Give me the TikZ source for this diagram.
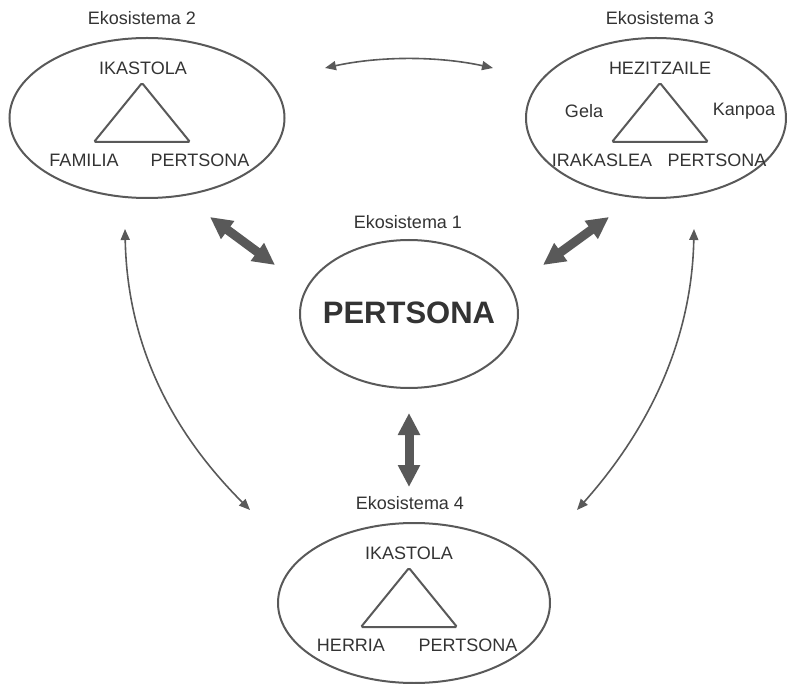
\documentclass[tikz,border=0pt]{standalone}
\usepackage{fontspec}
\setmainfont{Liberation Sans}
\usetikzlibrary{shapes.geometric,arrows.meta}
\definecolor{marra}{HTML}{595959}
\definecolor{testua}{HTML}{333333}
\newcommand{\hiruki}[2]{%
    \draw[line width=2pt, rounded corners=1.5pt] (#1,#2-35) -- (#1+48,#2+24) -- (#1-48,#2+24) -- cycle;
}
\tikzset{
  eko/.style={draw=marra, line width=2pt, ellipse, inner sep=0pt},
  idatzi/.style={text=testua, font=\fontsize{18}{20}\selectfont, inner sep=0pt},
  geziLodi/.style={draw=marra, line width=9pt, {Triangle[width=21pt,length=22pt]}-{Triangle[width=21pt,length=22pt]}},
  geziMehe/.style={draw=marra, line width=1.6pt, {Triangle[width=9pt,length=11pt]}-{Triangle[width=9pt,length=11pt]}}
}
\begin{document}
\begin{tikzpicture}[x=1pt,y=-1pt]
	\useasboundingbox (0,0) rectangle (787,684);

	\begin{scope}[draw=marra]

    %%%%%%%%%%%%%%%%%%%%%%%%%%%%%%%%%%%%%%%%%%%%%%%%%%%%%%%%%%%%%%%%%%%%%
    % Ekosistema 1
	\node[eko, minimum width=218pt, minimum height=148pt] (e1) at (409,314) {};
	\node[idatzi] (t1) at (408,222) {Ekosistema 1};
	\node[idatzi, font=\fontsize{31}{34}\selectfont\bfseries] (p1) at (409,313) {PERTSONA};

    %%%%%%%%%%%%%%%%%%%%%%%%%%%%%%%%%%%%%%%%%%%%%%%%%%%%%%%%%%%%%%%%%%%%%
    % Ekosistema 2
	\node[eko, minimum width=275pt, minimum height=160pt] (e2) at (147,118) {};
	\node[idatzi] (t2) at (142,18) {Ekosistema 2};
	\hiruki{142}{118}
	\node[idatzi] (ik2) at (143,68) {IKASTOLA};
	\node[idatzi] (fa2) at (84,160) {FAMILIA};
	\node[idatzi] (pe2) at (200,160) {PERTSONA};

    %%%%%%%%%%%%%%%%%%%%%%%%%%%%%%%%%%%%%%%%%%%%%%%%%%%%%%%%%%%%%%%%%%%%%
    % Ekosistema 3
	\node[eko, minimum width=260pt, minimum height=160pt] (e3) at (656,118) {};
	\node[idatzi] (t3) at (660,18) {Ekosistema 3};
	\hiruki{660}{118}
	\node[idatzi] (he3) at (660,68) {HEZITZAILE};
	\node[idatzi] (ge3) at (584,111) {Gela};
	\node[idatzi] (ka3) at (744,111) {Kanpoa};
	\node[idatzi] (ir3) at (602,160) {IRAKASLEA};
	\node[idatzi] (pe3) at (717,160) {PERTSONA};

    %%%%%%%%%%%%%%%%%%%%%%%%%%%%%%%%%%%%%%%%%%%%%%%%%%%%%%%%%%%%%%%%%%%%%
    % Ekosistema 4
	\node[eko, minimum width=272pt, minimum height=160pt] (e4) at (414,603) {};
	\node[idatzi] (t4) at (410,503) {Ekosistema 4};
	\hiruki{409}{603}
	\node[idatzi] (ik4) at (409,553) {IKASTOLA};
	\node[idatzi] (he4) at (351,645) {HERRIA};
	\node[idatzi] (pe4) at (468,645) {PERTSONA};

% gezi lodiak (1 <-> 2,3,4)
	\coordinate (g21) at (210,217);
	\coordinate (g12) at (275,265);
	\coordinate (g31) at (609,217);
	\coordinate (g13) at (543,265);
	\coordinate (g14) at (409,413);
	\coordinate (g41) at (409,487);
	\draw[geziLodi] (g21) -- (g12);
	\draw[geziLodi] (g31) -- (g13);
	\draw[geziLodi] (g14) -- (g41);

% gezi meheak
	\coordinate (m23) at (325,68);
	\coordinate (m32) at (493,68);
	\draw[geziMehe] (m23) .. controls (380,56) and (438,56) .. (m32);

	\coordinate (m24) at (125,229);
	\coordinate (m42) at (250,510);
	\draw[geziMehe] (m24) .. controls (127,330) and (160,420) .. (m42);

	\coordinate (m34) at (694,229);
	\coordinate (m43) at (577,510);
	\draw[geziMehe] (m34) .. controls (692,330) and (657,420) .. (m43);

	\end{scope}

\end{tikzpicture}
\end{document}
